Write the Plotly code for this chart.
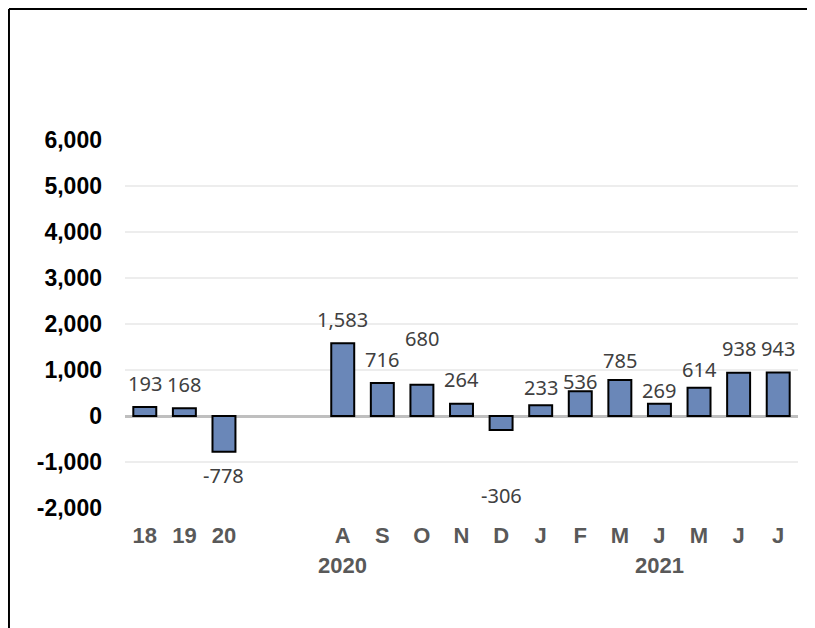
import plotly.graph_objects as go

# Data: three annual bars, a gap, then monthly bars
tick_labels = ["18", "19", "20", "", "", "A", "S", "O", "N", "D",
               "J", "F", "M", "J", "M", "J", "J"]
values = [193, 168, -778, None, None, 1583, 716, 680, 264, -306,
          233, 536, 785, 269, 614, 938, 943]
years = ["2020", "2021"]
year_slot = [5, 13]

y_ticks = [-2000, -1000, 0, 1000, 2000, 3000, 4000, 5000, 6000]
y_tick_labels = ["-2,000", "-1,000", "0", "1,000", "2,000", "3,000",
                 "4,000", "5,000", "6,000"]

x_pos = list(range(len(tick_labels)))

fig = go.Figure()

fig.add_trace(
    go.Bar(
        x=x_pos,
        y=values,
        width=0.58,
        marker_color="#6A87B8",
        marker_line_color="black",
        marker_line_width=2,
        hoverinfo="skip",
    )
)

# value labels, nudged like the original (some were moved by hand)
label_nudge = {7: 46, 9: 65, 11: 10, 13: 13, 10: 18, 12: 19, 14: 18}
for i, v in enumerate(values):
    if v is None:
        continue
    shift = label_nudge.get(i, 24)
    fig.add_annotation(
        x=i,
        y=v,
        text=f"{v:,}",
        showarrow=False,
        yanchor="middle",
        yshift=shift if v >= 0 else -shift,
        font=dict(family="Noto Sans", size=20, color="#404040"),
    )

# year labels under the month ticks
for yr, slot in zip(years, year_slot):
    fig.add_annotation(
        x=slot,
        y=-0.155,
        yref="paper",
        text=yr,
        showarrow=False,
        yanchor="middle",
        font=dict(family="Liberation Sans", size=22, color="#595959", weight="bold"),
    )

# frame lines on the top and left edges of the picture
fig.add_shape(type="line", xref="paper", yref="paper",
              x0=-0.1724, x1=1.05, y0=1.356, y1=1.356,
              line=dict(color="black", width=2))
fig.add_shape(type="line", xref="paper", yref="paper",
              x0=-0.1724, x1=-0.1724, y0=1.356, y1=-0.4,
              line=dict(color="black", width=2))

fig.update_xaxes(
    range=[-0.5, len(tick_labels) - 0.5],
    tickmode="array",
    tickvals=x_pos,
    ticktext=tick_labels,
    showgrid=False,
    showline=False,
    ticks="",
    ticklabelstandoff=12,
    tickfont=dict(family="Liberation Sans", size=22, color="#595959", weight="bold"),
)

fig.update_yaxes(
    range=[-2000, 6000],
    tickmode="array",
    tickvals=y_ticks,
    ticktext=y_tick_labels,
    showgrid=True,
    gridcolor="#EDEDED",
    gridwidth=1.5,
    zeroline=True,
    zerolinecolor="#BFBFBF",
    zerolinewidth=3,
    showline=False,
    ticks="",
    ticklabelstandoff=22,
    tickfont=dict(family="Liberation Sans", size=23, color="black", weight="bold"),
)

# the page puts the figure 8px in from the corner, so size it to fit
fig.update_layout(
    width=807,
    height=620,
    margin=dict(l=117, r=17, t=132, b=120),
    plot_bgcolor="white",
    paper_bgcolor="white",
    showlegend=False,
    bargap=0.42,
)

fig.write_html("out.html")
